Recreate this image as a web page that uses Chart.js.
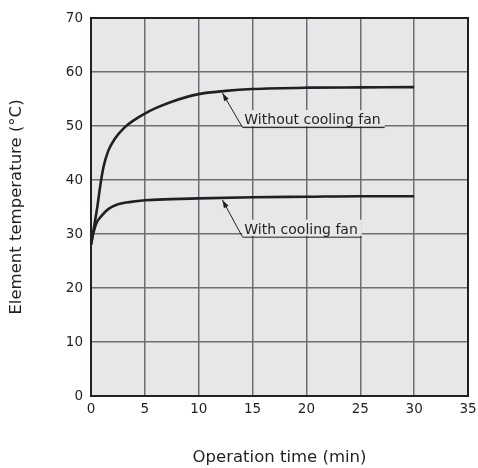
<!DOCTYPE html>
<html lang="en">
<head>
  <meta charset="UTF-8">
  <title>Element temperature vs operation time</title>
  <script src="https://cdn.jsdelivr.net/npm/chart.js"></script>
  <style>
    html, body { margin: 0; padding: 0; background: #ffffff; }
    #wrap { width: 478px; height: 468px; }
  </style>
</head>
<body>
  <div id="wrap"><canvas id="tempChart" width="478" height="468"></canvas></div>

  <script>
    // curve without fan
    const timeNoFan = [0, 0.3, 0.6, 0.85, 1.15, 1.6, 2.2, 3.1, 4, 5, 6, 7.5, 10, 12.5, 15, 20, 25, 30];
    const tempNoFan = [28, 31.5, 35.2, 38.8, 42.3, 45.4, 47.6, 49.7, 51.1, 52.3, 53.3, 54.5, 55.9, 56.5, 56.85, 57.1, 57.15, 57.2];

    // curve with fan
    const timeFan = [0, 0.2, 0.5, 1, 1.6, 2.5, 3.7, 5, 7.5, 10, 15, 20, 25, 30];
    const tempFan = [28, 30, 32, 33.4, 34.6, 35.5, 35.95, 36.25, 36.45, 36.6, 36.8, 36.9, 37, 37];

    const xTicks = [0, 5, 10, 15, 20, 25, 30, 35];
    const yTicks = [0, 10, 20, 30, 40, 50, 60, 70];

    // callouts: arrow tip on the curve, label corner (data units)
    const callouts = [
      { text: 'Without cooling fan', tip: [12.2, 56.1], corner: [14.05, 49.8] },
      { text: 'With cooling fan', tip: [12.2, 36.3], corner: [14.05, 29.5] }
    ];

    const ink = '#231f20';
    const plotBg = '#e6e7e8';
    const font = 'DejaVu Sans';

    const pairs = (xs, ys) => xs.map((x, i) => ({ x: x, y: ys[i] }));

    const plotDecor = {
      id: 'plotDecor',
      beforeDraw(chart) {
        const { ctx, chartArea: a } = chart;
        ctx.save();
        ctx.fillStyle = plotBg;
        ctx.fillRect(a.left, a.top, a.right - a.left, a.bottom - a.top);
        ctx.restore();
      },
      beforeDatasetsDraw(chart) {
        const { ctx, chartArea: a } = chart;
        ctx.save();
        ctx.strokeStyle = ink;
        ctx.lineWidth = 2;
        ctx.strokeRect(a.left, a.top, a.right - a.left, a.bottom - a.top);
        ctx.restore();
      },
      afterDatasetsDraw(chart) {
        const { ctx, scales } = chart;
        ctx.save();
        ctx.font = '14px "' + font + '"';
        callouts.forEach(c => {
          const tx = scales.x.getPixelForValue(c.tip[0]);
          const ty = scales.y.getPixelForValue(c.tip[1]);
          const cx = scales.x.getPixelForValue(c.corner[0]);
          const cy = scales.y.getPixelForValue(c.corner[1]);
          const w = ctx.measureText(c.text).width + 6;

          // box behind the label hides the grid
          ctx.fillStyle = plotBg;
          ctx.fillRect(cx, cy - 17, w, 16);

          ctx.fillStyle = ink;
          ctx.textBaseline = 'alphabetic';
          ctx.fillText(c.text, cx + 2, cy - 3);

          ctx.strokeStyle = ink;
          ctx.lineWidth = 1;
          ctx.beginPath();
          ctx.moveTo(cx, cy + 0.5);
          ctx.lineTo(cx + w, cy + 0.5);
          ctx.moveTo(cx, cy);
          ctx.lineTo(tx, ty);
          ctx.stroke();

          // arrow head
          const ang = Math.atan2(ty - cy, tx - cx);
          const len = 8, half = 2.6;
          ctx.fillStyle = ink;
          ctx.beginPath();
          ctx.moveTo(tx, ty);
          ctx.lineTo(tx - len * Math.cos(ang) + half * Math.sin(ang), ty - len * Math.sin(ang) - half * Math.cos(ang));
          ctx.lineTo(tx - len * Math.cos(ang) - half * Math.sin(ang), ty - len * Math.sin(ang) + half * Math.cos(ang));
          ctx.closePath();
          ctx.fill();
        });
        ctx.restore();
      }
    };

    const lineStyle = {
      showLine: true,
      borderColor: ink,
      borderWidth: 2.6,
      pointRadius: 0,
      fill: false,
      cubicInterpolationMode: 'monotone'
    };

    new Chart(document.getElementById('tempChart'), {
      type: 'scatter',
      data: {
        datasets: [
          Object.assign({ label: 'Without cooling fan', data: pairs(timeNoFan, tempNoFan) }, lineStyle),
          Object.assign({ label: 'With cooling fan', data: pairs(timeFan, tempFan) }, lineStyle)
        ]
      },
      options: {
        responsive: false,
        animation: false,
        layout: { padding: { top: 18, right: 10, left: 0, bottom: 0 } },
        plugins: { legend: { display: false }, tooltip: { enabled: false } },
        scales: {
          x: {
            type: 'linear',
            min: 0, max: 35,
            afterBuildTicks: s => { s.ticks = xTicks.map(v => ({ value: v })); },
            afterFit: s => { s.height = 72; s.paddingRight = 0; s.paddingLeft = 0; },
            ticks: { color: ink, padding: 5, font: { family: font, size: 13.5 } },
            grid: { color: '#6d6e71', lineWidth: 1.5, drawTicks: false },
            border: { display: false },
            title: {
              display: true, text: 'Operation time (min)', color: ink,
              font: { family: font, size: 16.5 }, padding: { top: 0, bottom: 0 }
            }
          },
          y: {
            type: 'linear',
            min: 0, max: 70,
            afterBuildTicks: s => { s.ticks = yTicks.map(v => ({ value: v })); },
            afterFit: s => { s.width = 91; s.paddingTop = 0; s.paddingBottom = 0; },
            ticks: { color: ink, padding: 8, font: { family: font, size: 13.5 } },
            grid: { color: '#6d6e71', lineWidth: 1.5, drawTicks: false },
            border: { display: false },
            title: {
              display: true, text: 'Element temperature (°C)', color: ink,
              font: { family: font, size: 16.5 }, padding: { top: 7, bottom: 0 }
            }
          }
        }
      },
      plugins: [plotDecor]
    });
  </script>
</body>
</html>
